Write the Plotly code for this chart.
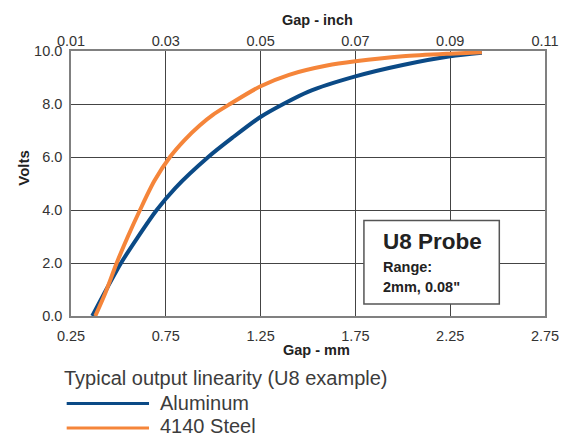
import plotly.graph_objects as go

# ---- data ----
al_gap_mm = [0.362, 0.44, 0.514, 0.60, 0.702, 0.80, 0.974, 1.10, 1.247, 1.37, 1.50, 1.75, 2.00, 2.25, 2.417]
al_volts = [0.0, 1.05, 2.0, 2.95, 4.0, 4.83, 6.0, 6.72, 7.5, 8.0, 8.46, 9.04, 9.47, 9.80, 9.93]

st_gap_mm = [0.378, 0.43, 0.491, 0.55, 0.614, 0.69, 0.772, 0.85, 0.93, 1.00, 1.089, 1.247, 1.40, 1.60, 1.75, 2.00, 2.25, 2.417]
st_volts = [0.0, 0.85, 2.0, 3.0, 4.0, 5.1, 6.0, 6.65, 7.2, 7.6, 8.0, 8.66, 9.1, 9.45, 9.61, 9.8, 9.90, 9.95]

mm_ticks = [0.25, 0.75, 1.25, 1.75, 2.25, 2.75]
inch_ticks = [0.01, 0.03, 0.05, 0.07, 0.09, 0.11]
volt_ticks = [0, 2, 4, 6, 8, 10]

series_names = ["Aluminum", "4140 Steel"]
colors = ["#0b4a86", "#f5853a"]

FONT = "Liberation Sans, Arial, sans-serif"
TXT = "#333333"
DARK = "#222222"

W, H = 563, 436

fig = go.Figure()
fig.add_trace(go.Scatter(x=al_gap_mm, y=al_volts, mode="lines", name=series_names[0],
                         line=dict(color=colors[0], width=4, shape="spline", smoothing=0.8)))
fig.add_trace(go.Scatter(x=st_gap_mm, y=st_volts, mode="lines", name=series_names[1],
                         line=dict(color=colors[1], width=4, shape="spline", smoothing=0.8)))
# carrier for the top (inch) axis
fig.add_trace(go.Scatter(x=[inch_ticks[0], inch_ticks[-1]], y=[0, 0], xaxis="x2", mode="markers",
                         marker=dict(opacity=0), showlegend=False, hoverinfo="skip"))

axis_common = dict(zeroline=False, ticks="", automargin=False,
                   tickfont=dict(family=FONT, size=14.5, color=TXT))

fig.update_layout(
    width=W, height=H,
    margin=dict(l=71, r=18, t=51, b=120, autoexpand=False),
    paper_bgcolor="white", plot_bgcolor="white",
    showlegend=False,
    font=dict(family=FONT, size=14.5, color=TXT),
    xaxis=dict(range=[0.25, 2.75], tickvals=mm_ticks, ticktext=[f"{v:.2f}" for v in mm_ticks],
               showgrid=True, gridcolor="#444444", gridwidth=1,
               showline=True, linecolor="#808080", linewidth=1.5, mirror=True,
               ticklabelstandoff=6, **axis_common),
    xaxis2=dict(range=[0.01, 0.11], tickvals=inch_ticks, ticktext=[f"{v:.2f}" for v in inch_ticks],
                overlaying="x", side="top", anchor="y", showgrid=False, showline=False,
                ticklabelstandoff=1, **axis_common),
    yaxis=dict(range=[0, 10], tickvals=volt_ticks, ticktext=[f"{v:.1f}" for v in volt_ticks],
               showgrid=True, gridcolor="#444444", gridwidth=1,
               showline=True, linecolor="#808080", linewidth=1.5, mirror=True,
               ticklabelstandoff=4, **axis_common),
)

# info box
fig.add_shape(type="rect", xref="paper", yref="paper", x0=0.618, x1=0.9036, y0=0.0452, y1=0.3603,
              line=dict(color="#555555", width=1.5), fillcolor="white", layer="above")

ann = []
ann.append(dict(text="<b>U8 Probe</b>", x=0.6534, y=0.280, xanchor="left", yanchor="middle",
                font=dict(family=FONT, size=22.5, color=DARK)))
ann.append(dict(text="<b>Range:</b>", x=0.6534, y=0.1847, xanchor="left", yanchor="middle",
                font=dict(family=FONT, size=14.5, color=DARK)))
ann.append(dict(text="<b>2mm, 0.08\"</b>", x=0.6534, y=0.1086, xanchor="left", yanchor="middle",
                font=dict(family=FONT, size=14.5, color=DARK)))
# axis titles
ann.append(dict(text="<b>Gap - mm</b>", x=0.517, y=-0.127, xanchor="center", yanchor="middle",
                font=dict(family=FONT, size=14.5, color=DARK)))
ann.append(dict(text="<b>Gap - inch</b>", x=0.521, y=1.1168, xanchor="center", yanchor="middle",
                font=dict(family=FONT, size=14.5, color=DARK)))
ann.append(dict(text="<b>Volts</b>", x=-0.101, y=0.56, xanchor="center", yanchor="middle",
                textangle=-90, font=dict(family=FONT, size=15, color=DARK)))
# legend
ann.append(dict(text="Typical output linearity (U8 example)", x=-0.019, y=-0.2326, xanchor="left",
                yanchor="middle", font=dict(family=FONT, size=20, color="#3c3c3c")))
ann.append(dict(text=series_names[0], x=0.184, y=-0.3283, xanchor="left", yanchor="middle",
                font=dict(family=FONT, size=20, color="#3c3c3c")))
ann.append(dict(text=series_names[1], x=0.184, y=-0.415, xanchor="left", yanchor="middle",
                font=dict(family=FONT, size=20, color="#3c3c3c")))
for a in ann:
    a.update(xref="paper", yref="paper", showarrow=False)
    fig.add_annotation(**a)

for c, yy in zip(colors, [-0.3306, -0.4222]):
    fig.add_shape(type="line", xref="paper", yref="paper", x0=-0.0091, x1=0.1646, y0=yy, y1=yy,
                  line=dict(color=c, width=3))

# remove the browser's default 8px body margin so the figure fills the window exactly
fig.write_html("out.html", config={"displayModeBar": False},
               post_script="document.body.style.margin='0';document.body.style.overflow='hidden';")
